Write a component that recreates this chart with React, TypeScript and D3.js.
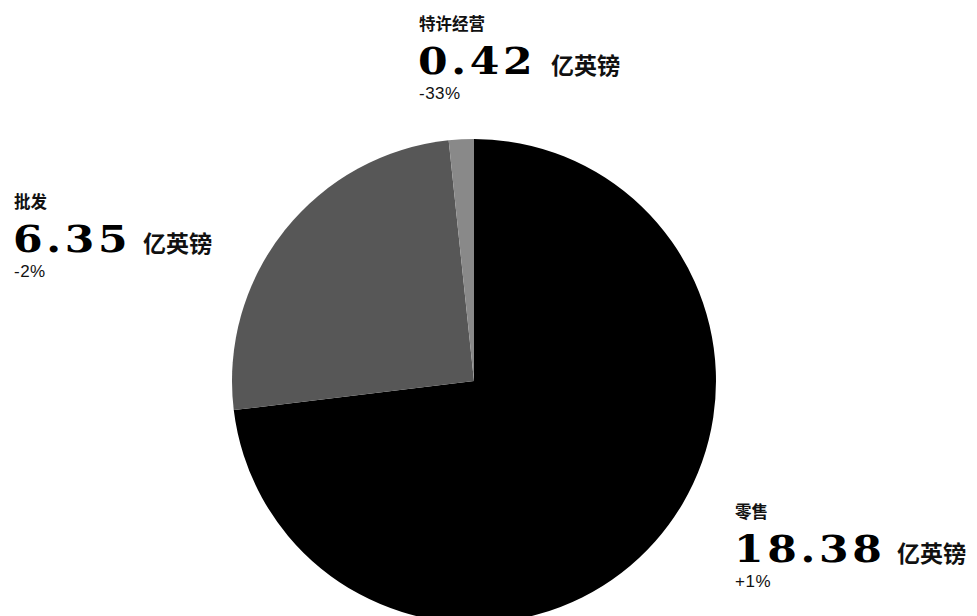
import React from "react";
import * as d3 from "d3";

const categories = ["零售", "批发", "特许经营"];
const values = [18.38, 6.35, 0.42];
const valueLabels = ["18.38", "6.35", "0.42"];
const changes = ["+1%", "-2%", "-33%"];
const unit = "亿英镑";

const W = 977;
const H = 616;
const cx = 474;
const cy = 381;
const R = 242;
const colors = ["#000000", "#575757", "#898989"];
const labelPos: Record<string, [number, number]> = {
  "零售": [735, 503],
  "批发": [14, 193],
  "特许经营": [419, 15],
};
const unitOffset: Record<string, number> = {
  "零售": 162,
  "批发": 129,
  "特许经营": 132,
};

export default function App() {
  const pie = d3
    .pie<number>()
    .sort(null)
    .startAngle(0)
    .endAngle(2 * Math.PI)
    .value((d) => d);
  const arcs = pie(values);
  const arc = d3.arc<d3.PieArcDatum<number>>().innerRadius(0).outerRadius(R);

  return (
    <svg
      width={W}
      height={H}
      style={{ position: "fixed", left: 0, top: 0, background: "#fff" }}
    >
      <g transform={`translate(${cx},${cy})`}>
        {arcs.map((a, i) => (
          <path key={i} d={arc(a) || ""} fill={colors[i]} />
        ))}
      </g>
      {categories.map((c, i) => {
        const [x, y] = labelPos[c];
        return (
          <g key={c} transform={`translate(${x},${y})`}>
            <text
              x={0}
              y={15}
              fontFamily="'Noto Sans CJK SC', sans-serif"
              fontWeight={700}
              fontSize={16.5}
              fill="#111"
            >
              {c}
            </text>
            <text
              transform="translate(-1,59) scale(1.15,1)"
              fontFamily="'DejaVu Serif', serif"
              fontWeight={700}
              fontSize={37}
              letterSpacing={3.2}
              fill="#000"
            >
              {valueLabels[i]}
            </text>
            <text
              x={unitOffset[c]}
              y={59}
              fontFamily="'Noto Sans CJK SC', serif"
              fontWeight={700}
              fontSize={23}
              fill="#111"
            >
              {unit}
            </text>
            <text
              x={0}
              y={84}
              fontFamily="'Liberation Sans', Arial, sans-serif"
              fontSize={17}
              letterSpacing={0.5}
              fill="#111"
            >
              {changes[i]}
            </text>
          </g>
        );
      })}
    </svg>
  );
}
